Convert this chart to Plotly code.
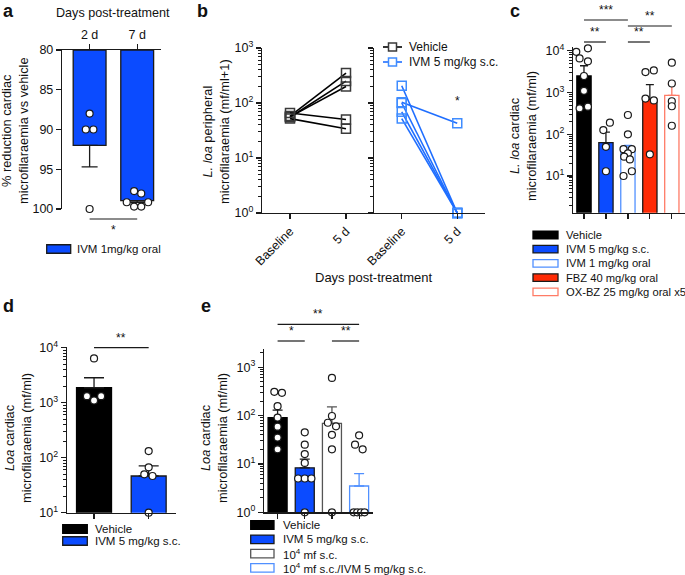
import plotly.graph_objects as go

W, H = 685, 575
FONT = "Liberation Sans, Arial, Helvetica, sans-serif"
INK = "#1a1a1a"
BLACK = "#000000"
BLUE = "#0B4BFF"
LBLUE = "#5090FF"
RED = "#FF2B06"
LRED = "#FF7B66"
BLUE_B = "#1F6EFF"
GREY = "#555555"

# ======================= DATA =======================
# Panel a: % reduction cardiac microfilaraemia vs vehicle
a_days = ["2 d", "7 d"]
a_mean = [92.0, 98.95]
a_err_end = [94.7, 99.15]
a_points = [[88.0, 90.0, 90.0, 100.0],
            [97.75, 98.05, 99.15, 99.15, 99.7, 99.7]]

# Panel b: L. loa peripheral microfilaraemia (mf/ml+1)
b_times = ["Baseline", "5 d"]
b_vehicle_baseline = [58, 55, 56, 66, 52]
b_vehicle_5d = [350, 250, 200, 50, 34]
b_ivm_baseline = [206, 103, 100, 69, 52]
b_ivm_5d = [1, 43, 1, 1, 1]

# Panel c: L. loa cardiac microfilaraemia (mf/ml)
c_groups = ["Vehicle", "IVM 5 mg/kg s.c.", "IVM 1 mg/kg oral",
            "FBZ 40 mg/kg oral", "OX-BZ 25 mg/kg oral x5"]
c_mean = [2500, 63, 40, 690, 860]
c_err_end = [4400, 113, 54, 1550, 1580]
c_points = [[9500, 11500, 6600, 5600, 2500, 1100, 420, 460],
            [126, 190, 50, 13],
            [290, 100, 44, 44, 35, 29, 25, 13, 10],
            [3100, 3400, 720, 650, 33],
            [5200, 1650, 620, 470, 160]]

# Panel d: Loa cardiac microfilaraemia (mf/ml)
d_groups = ["Vehicle", "IVM 5 mg/kg s.c."]
d_mean = [1875, 46.5]
d_err_end = [2850, 71]
d_points = [[6400, 1320, 1320, 1100],
            [132, 67, 50, 46.5, 10]]

# Panel e: Loa cardiac microfilaraemia (mf/ml)
e_groups = ["Vehicle", "IVM 5 mg/kg s.c.", "10<sup>4</sup> mf s.c.",
            "10<sup>4</sup> mf s.c./IVM 5 mg/kg s.c."]
e_mean = [91, 8.3, 69, 3.5]
e_err_end = [130, 12.6, 151, 6.3]
e_points = [[309, 295, 156, 91, 59, 35, 20],
            [45, 25, 16, 10.5, 5, 5, 5, 1],
            [2350, 600, 98, 71, 60, 40, 20, 1],
            [39, 25, 20, 1, 1, 1, 1]]

# ======================= STYLE / LAYOUT =======================
# horizontal scatter offsets of dots within each bar (style only)
a_jit = [[0, -0.08, 0.08, 0], [-0.065, 0.085, -0.22, 0.23, -0.065, 0.085]]
c_jit = [[-0.35, 0.18, -0.2, 0.18, 0, 0, -0.2, 0.18], [-0.12, 0.18, 0, 0],
         [0, 0, -0.2, 0.18, 0, -0.17, 0.09, 0.18, -0.2],
         [-0.2, 0.18, -0.2, 0.18, 0], [0, 0, 0, 0, 0]]
d_jit = [[0, -0.13, 0.13, 0], [0, 0, -0.08, 0.07, 0]]
e_jit = [[-0.12, 0.16, 0, 0, 0, 0, 0], [0, 0, 0, 0, -0.245, 0, 0.245, 0],
         [0, 0, 0, -0.15, 0.15, 0, 0, 0], [0, -0.15, 0.13, -0.2, -0.07, 0.07, 0.2]]

c_fill = [BLACK, BLUE, "white", RED, "white"]
c_line = [BLACK, INK, LBLUE, INK, LRED]
c_errc = [INK, INK, LBLUE, INK, LRED]
d_fill = [BLACK, BLUE]
d_line = [BLACK, INK]
e_fill = [BLACK, BLUE, "white", "white"]
e_line = [BLACK, INK, GREY, LBLUE]
e_errc = [INK, INK, GREY, LBLUE]

# pixel geometry of each plotting area
G = {
    "a": dict(x=(62, 161), y=(50, 209), xr=[-0.58, 1.5]),
    "b1": dict(x=(262, 374), y=(48, 213), xr=[-0.5, 1.5]),
    "b2": dict(x=(374, 485), y=(48, 213), xr=[-0.5, 1.5]),
    "c": dict(x=(573, 685), y=(46.7, 212.7), xr=[-0.5, 4.6]),
    "d": dict(x=(66.7, 176), y=(346.7, 512.7), xr=[-0.5, 1.5]),
    "e": dict(x=(264, 372.7), y=(349.3, 512.3), xr=[-0.5, 3.5]),
}


def xdom(p):
    x0, x1 = G[p]["x"]
    return [x0 / W, x1 / W]


def ydom(p):
    t, b = G[p]["y"]
    return [1 - b / H, 1 - t / H]


def px(x):
    return x / W


def py(y):
    return 1 - y / H


def xp(p, v):
    x0, x1 = G[p]["x"]
    r0, r1 = G[p]["xr"]
    return (x0 + (v - r0) / (r1 - r0) * (x1 - x0)) / W


fig = go.Figure()

DOT = dict(symbol="circle", size=7, color="white", line=dict(color=INK, width=1.2))


def add_bars(xa, ya, means, fill, line, width, base=None):
    kw = {}
    if base is not None:
        kw["base"] = base
        ys = [m - base for m in means]
    else:
        ys = means
    fig.add_trace(go.Bar(x=list(range(len(means))), y=ys, width=width,
                         marker=dict(color=fill, line=dict(color=line, width=1.3)),
                         xaxis=xa, yaxis=ya, showlegend=False, hoverinfo="skip", **kw))


def add_err(xa, ya, means, ends, colors, wpx):
    for i, (m, e) in enumerate(zip(means, ends)):
        fig.add_trace(go.Scatter(
            x=[i], y=[m], mode="markers",
            marker=dict(size=1, color="rgba(0,0,0,0)"),
            error_y=dict(type="data", symmetric=False, array=[e - m], arrayminus=[0],
                         color=colors[i], thickness=1.3, width=wpx),
            xaxis=xa, yaxis=ya, showlegend=False, cliponaxis=False, hoverinfo="skip"))


def add_dots(xa, ya, pts, jit):
    xs, ys = [], []
    for i, (grp, jj) in enumerate(zip(pts, jit)):
        for v, j in zip(grp, jj):
            xs.append(i + j)
            ys.append(v)
    fig.add_trace(go.Scatter(x=xs, y=ys, mode="markers", marker=DOT,
                             xaxis=xa, yaxis=ya, showlegend=False, cliponaxis=False,
                             hoverinfo="skip"))


# ---- panel a
add_bars("x", "y", a_mean, BLUE, INK, 0.69, base=80)
add_err("x", "y", a_mean, a_err_end, [INK, INK], 8)
add_dots("x", "y", a_points, a_jit)

# ---- panel b
for b0, b5 in zip(b_vehicle_baseline, b_vehicle_5d):
    fig.add_trace(go.Scatter(x=[0, 1], y=[b0, b5], mode="lines+markers",
                             line=dict(color=BLACK, width=1.6),
                             marker=dict(symbol="square-open", size=9, color="#3a3a3a",
                                         line=dict(width=1.5)),
                             xaxis="x2", yaxis="y2", showlegend=False, cliponaxis=False,
                             hoverinfo="skip"))
for b0, b5 in zip(b_ivm_baseline, b_ivm_5d):
    fig.add_trace(go.Scatter(x=[0, 1], y=[b0, b5], mode="lines+markers",
                             line=dict(color=BLUE_B, width=1.6),
                             marker=dict(symbol="square-open", size=9, color="#3f8cff",
                                         line=dict(width=1.5)),
                             xaxis="x3", yaxis="y3", showlegend=False, cliponaxis=False,
                             hoverinfo="skip"))

# ---- panel c
add_bars("x4", "y4", c_mean, c_fill, c_line, 0.65)
add_err("x4", "y4", c_mean, c_err_end, c_errc, 4)
add_dots("x4", "y4", c_points, c_jit)

# ---- panel d
add_bars("x5", "y5", d_mean, d_fill, d_line, 0.64)
add_err("x5", "y5", d_mean, d_err_end, [INK, INK], 10)
add_dots("x5", "y5", d_points, d_jit)

# ---- panel e
add_bars("x6", "y6", e_mean, e_fill, e_line, 0.70)
add_err("x6", "y6", e_mean, e_err_end, e_errc, 5)
add_dots("x6", "y6", e_points, e_jit)

# ======================= AXES =======================
AX = dict(showline=True, linecolor=INK, linewidth=1.2, ticks="outside", ticklen=5,
          tickwidth=1.2, tickcolor=INK, showgrid=False, zeroline=False,
          tickfont=dict(size=12.5, color="#111", family=FONT), fixedrange=True)


def logax(p, rng, vals, labels=True):
    minors = [k * 10 ** d for d in range(-1, 5) for k in range(2, 10)]
    d = dict(AX, type="log", domain=ydom(p), range=rng,
             tickvals=vals, ticktext=["10<sup>%d</sup>" % len(str(int(v))[1:]) for v in vals],
             minor=dict(tickmode="array", tickvals=minors, ticks="outside", ticklen=3,
                        tickwidth=1, tickcolor=INK, showgrid=False))
    if not labels:
        d["showticklabels"] = False
    return d


log_ticks_b = [1, 10, 100, 1000]
log_ticks_c = [10, 100, 1000, 10000]
log_ticks_d = [10, 100, 1000, 10000]
log_ticks_e = [1, 10, 100, 1000]

fig.update_layout(
    xaxis=dict(AX, domain=xdom("a"), range=G["a"]["xr"], side="top", anchor="y",
               tickvals=[0, 1], ticktext=a_days),
    yaxis=dict(AX, domain=ydom("a"), range=[100, 80], anchor="x",
               tickvals=[80, 85, 90, 95, 100]),
    xaxis2=dict(AX, domain=xdom("b1"), range=G["b1"]["xr"], anchor="y2",
                tickvals=[0, 1], ticktext=b_times, tickangle=-45),
    yaxis2=dict(logax("b1", [0, 3], log_ticks_b), anchor="x2"),
    xaxis3=dict(AX, domain=xdom("b2"), range=G["b2"]["xr"], anchor="y3",
                tickvals=[0, 1], ticktext=b_times, tickangle=-45),
    yaxis3=dict(logax("b2", [0, 3], log_ticks_b, labels=False), anchor="x3"),
    xaxis4=dict(AX, domain=xdom("c"), range=G["c"]["xr"], anchor="y4",
                tickvals=[0, 1, 2, 3, 4], showticklabels=False),
    yaxis4=dict(logax("c", [0.12, 4.1], log_ticks_c), anchor="x4"),
    xaxis5=dict(AX, domain=xdom("d"), range=G["d"]["xr"], anchor="y5",
                tickvals=[0, 1], showticklabels=False),
    yaxis5=dict(logax("d", [1, 4.02], log_ticks_d), anchor="x5"),
    xaxis6=dict(AX, domain=xdom("e"), range=G["e"]["xr"], anchor="y6",
                tickvals=[0, 1, 2, 3], showticklabels=False),
    yaxis6=dict(logax("e", [0, 3.37], log_ticks_e), anchor="x6"),
)

# ======================= ANNOTATIONS / SHAPES =======================
ann = []
shapes = []


def text(x, y, t, size=12.8, xa="center", ya="middle", angle=0, bold=False, color="#111"):
    ann.append(dict(x=px(x), y=py(y), xref="paper", yref="paper", text=t, showarrow=False,
                    xanchor=xa, yanchor=ya, textangle=angle,
                    font=dict(size=size, family=FONT, color=color,
                              weight="bold" if bold else "normal")))


def hline(x0, x1, y, color=INK, w=1.2):
    shapes.append(dict(type="line", xref="paper", yref="paper", x0=x0, x1=x1,
                       y0=py(y), y1=py(y), line=dict(color=color, width=w)))


def bracket(p, v0, v1, ypix, t, below=False):
    hline(xp(p, v0), xp(p, v1), ypix)
    xm = (xp(p, v0) + xp(p, v1)) / 2 * W
    if below:
        text(xm, ypix + 2, t, size=12, ya="top")
    else:
        text(xm, ypix - 1, t, size=12, ya="bottom")


def legbox(x0, x1, yc, h, fill, line):
    shapes.append(dict(type="rect", xref="paper", yref="paper", x0=px(x0), x1=px(x1),
                       y0=py(yc + h / 2), y1=py(yc - h / 2), fillcolor=fill,
                       line=dict(color=line, width=1.3)))


# panel letters
text(1, 11, "a", size=18, xa="left", bold=True)
text(195, 11, "b", size=18, xa="left", bold=True)
text(508, 11, "c", size=18, xa="left", bold=True)
text(1, 306, "d", size=18, xa="left", bold=True)
text(199, 306, "e", size=18, xa="left", bold=True)

# panel a
text(113, 13, "Days post-treatment", size=12.6)
text(15, 131, "% reduction cardiac<br>microfilaraemia vs vehicle", angle=-90)
bracket("a", 0, 1, 219, "*", below=True)
legbox(46.7, 70.7, 249, 8.5, BLUE, INK)
text(75, 249, "IVM 1mg/kg oral", size=11.5, xa="left")

# panel b
text(216, 132, "<i>L. loa</i> peripheral<br>microfilaraemia (mf/ml+1)", angle=-90)
text(374, 277, "Days post-treatment", size=13)
text(xp("b2", 1) * W, 101, "*", size=12)
for yc, col, mcol, lab in [(47, BLACK, "#3a3a3a", "Vehicle"),
                           (62, BLUE_B, "#3f8cff", "IVM 5 mg/kg s.c.")]:
    hline(px(383), px(402), yc, color=col, w=1.6)
    shapes.append(dict(type="rect", xref="paper", yref="paper", x0=px(388.5), x1=px(396.5),
                       y0=py(yc + 4), y1=py(yc - 4), fillcolor="white",
                       line=dict(color=mcol, width=1.5)))
    text(407, yc, lab, size=12, xa="left")

# panel c
text(523, 136, "<i>L. loa</i> cardiac<br>microfilaraemia (mf/ml)", angle=-90)
bracket("c", 0, 2, 20, "***")
bracket("c", 2, 4, 26, "**")
bracket("c", 0, 1, 42, "**")
bracket("c", 2, 3, 42, "**")
for k, g in enumerate(c_groups):
    yc = 235 + k * 14.2
    legbox(533, 558, yc, 7.5, c_fill[k], c_line[k])
    text(564, yc, g, size=11.2, xa="left")

# panel d
text(18, 438, "<i>Loa</i> cardiac<br>microfilaraemia (mf/ml)", angle=-90)
bracket("d", 0, 1, 347.7, "**")
for k, g in enumerate(d_groups):
    yc = 529 + k * 12
    legbox(62.7, 87.3, yc, 8.5, d_fill[k], d_line[k])
    text(93, yc, g, size=11.5, xa="left")

# panel e
text(214, 438, "<i>Loa</i> cardiac<br>microfilaraemia (mf/ml)", angle=-90)
bracket("e", 0, 3, 324.3, "**")
bracket("e", 0, 1, 341, "*")
bracket("e", 2, 3, 341, "**")
for k, g in enumerate(e_groups):
    yc = 525 + k * 14.3
    legbox(250.7, 274, yc, 8.5, e_fill[k], e_line[k])
    text(281, yc, g, size=11.5, xa="left")

fig.update_layout(
    width=W, height=H, autosize=False,
    margin=dict(l=0, r=0, t=0, b=0, pad=0, autoexpand=False),
    paper_bgcolor="white", plot_bgcolor="rgba(0,0,0,0)",
    font=dict(family=FONT, size=12, color="#111"),
    showlegend=False, bargap=0, hovermode=False,
    annotations=ann, shapes=shapes,
)

fig.write_html("out.html", config={"displayModeBar": False, "staticPlot": True},
               post_script="document.body.style.margin='0px';")
